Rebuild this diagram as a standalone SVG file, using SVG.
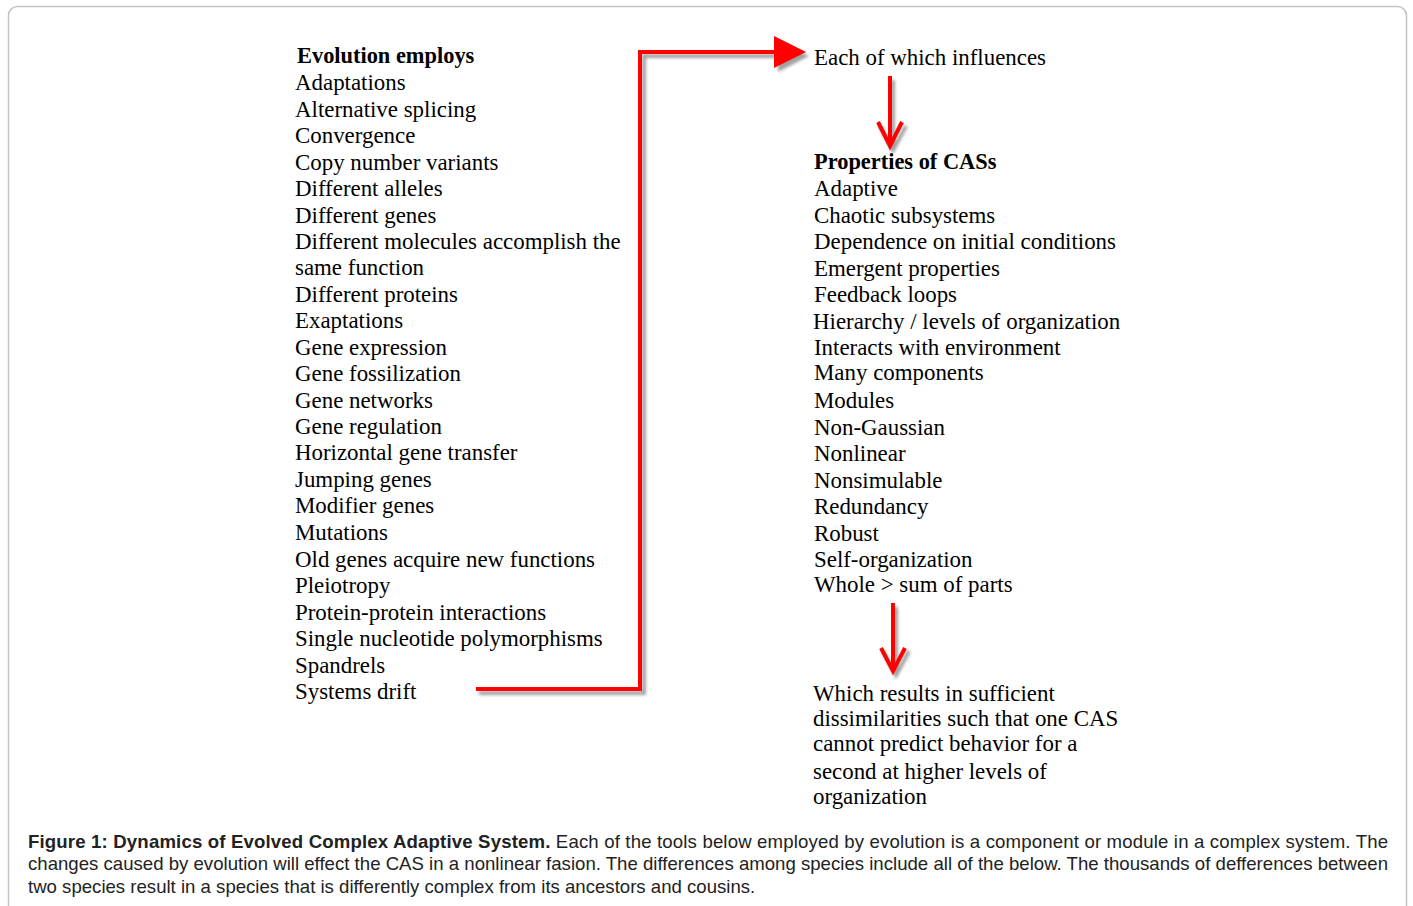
<svg xmlns="http://www.w3.org/2000/svg" width="1413" height="906" viewBox="0 0 1413 906">
<style>
.t{font-family:"Liberation Serif","Times New Roman",serif;font-size:22.9px;fill:#000}
.b{font-weight:bold;font-size:22.4px}
.cap{font-family:"Liberation Sans",Arial,sans-serif;font-size:18.6px;fill:#222}
.red{fill:none;stroke:#ff0000;stroke-width:4}
</style>
<defs>
<filter id="blur" x="-20%" y="-20%" width="140%" height="140%"><feGaussianBlur stdDeviation="1.5"/></filter>
</defs>
<rect x="8.5" y="6.5" width="1398" height="940" rx="9" fill="#fff" stroke="#c4c4c4" stroke-width="1.5"/>
<g id="connectors">
<g filter="url(#blur)" opacity="0.55">
<path d="M479 693 H644 V56 H778" fill="none" stroke="#555" stroke-width="4"/>
<polygon points="778,40 809,56 778,72" fill="#555"/>
<path d="M893 80 V150 M880 126 L893 150 L906 126" fill="none" stroke="#555" stroke-width="4"/>
<path d="M896 607 V675 M883 651 L896 675 L909 651" fill="none" stroke="#555" stroke-width="4"/>
</g>
<path class="red" d="M476 689 H640 V52 H776"/>
<polygon points="774,36 806,52 774,68" fill="#ff0000"/>
<path class="red" d="M890 76 V146 M878 122 L890 146 L902 122"/>
<path class="red" d="M893 603 V671 M881 648 L893 671 L905 648"/>
</g>
<g id="evolution">
<text class="t b" x="297" y="63">Evolution employs</text>
<text class="t" x="295" y="90">Adaptations</text>
<text class="t" x="295" y="117">Alternative splicing</text>
<text class="t" x="295" y="143">Convergence</text>
<text class="t" x="295" y="170">Copy number variants</text>
<text class="t" x="295" y="196">Different alleles</text>
<text class="t" x="295" y="223">Different genes</text>
<text class="t" x="295" y="249">Different molecules accomplish the</text>
<text class="t" x="295" y="275">same function</text>
<text class="t" x="295" y="302">Different proteins</text>
<text class="t" x="295" y="328">Exaptations</text>
<text class="t" x="295" y="355">Gene expression</text>
<text class="t" x="295" y="381">Gene fossilization</text>
<text class="t" x="295" y="408">Gene networks</text>
<text class="t" x="295" y="434">Gene regulation</text>
<text class="t" x="295" y="460">Horizontal gene transfer</text>
<text class="t" x="295" y="487">Jumping genes</text>
<text class="t" x="295" y="513">Modifier genes</text>
<text class="t" x="295" y="540">Mutations</text>
<text class="t" x="295" y="567">Old genes acquire new functions</text>
<text class="t" x="295" y="593">Pleiotropy</text>
<text class="t" x="295" y="620">Protein-protein interactions</text>
<text class="t" x="295" y="646">Single nucleotide polymorphisms</text>
<text class="t" x="295" y="673">Spandrels</text>
<text class="t" x="295" y="699">Systems drift</text>
</g>
<g id="influences">
<text class="t" x="814" y="65">Each of which influences</text>
</g>
<g id="properties">
<text class="t b" x="814" y="169">Properties of CASs</text>
<text class="t" x="814" y="196">Adaptive</text>
<text class="t" x="814" y="223">Chaotic subsystems</text>
<text class="t" x="814" y="249">Dependence on initial conditions</text>
<text class="t" x="814" y="276">Emergent properties</text>
<text class="t" x="814" y="302">Feedback loops</text>
<text class="t" x="813" y="329">Hierarchy / levels of organization</text>
<text class="t" x="814" y="355">Interacts with environment</text>
<text class="t" x="814" y="380">Many components</text>
<text class="t" x="814" y="408">Modules</text>
<text class="t" x="814" y="435">Non-Gaussian</text>
<text class="t" x="814" y="461">Nonlinear</text>
<text class="t" x="814" y="488">Nonsimulable</text>
<text class="t" x="814" y="514">Redundancy</text>
<text class="t" x="814" y="541">Robust</text>
<text class="t" x="814" y="567">Self-organization</text>
<text class="t" x="814" y="592">Whole &gt; sum of parts</text>
</g>
<g id="result">
<text class="t" x="813" y="701">Which results in sufficient</text>
<text class="t" x="813" y="726">dissimilarities such that one CAS</text>
<text class="t" x="813" y="751">cannot predict behavior for a</text>
<text class="t" x="813" y="779">second at higher levels of</text>
<text class="t" x="813" y="804">organization</text>
</g>
<g id="caption">
<text class="cap" x="28" y="848" textLength="1360" lengthAdjust="spacing"><tspan font-weight="bold">Figure 1: Dynamics of Evolved Complex Adaptive System.</tspan> Each of the tools below employed by evolution is a component or module in a complex system. The</text>
<text class="cap" x="28" y="870" textLength="1360" lengthAdjust="spacing">changes caused by evolution will effect the CAS in a nonlinear fasion. The differences among species include all of the below. The thousands of defferences between</text>
<text class="cap" x="28" y="893">two species result in a species that is differently complex from its ancestors and cousins.</text>
</g>
</svg>
